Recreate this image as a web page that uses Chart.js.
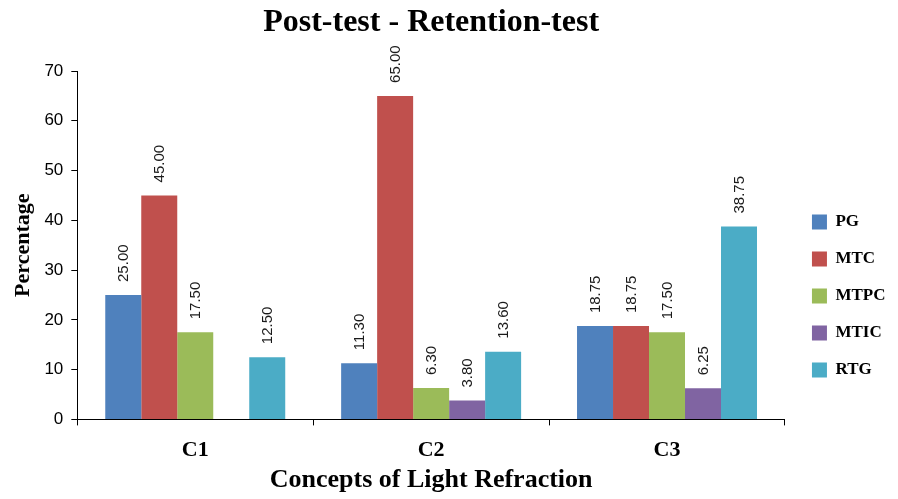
<!DOCTYPE html>
<html>
<head>
<meta charset="utf-8">
<script src="https://cdn.jsdelivr.net/npm/chart.js@4"></script>
<style>
  html, body { margin: 0; padding: 0; background: #fff; }
  #wrap { width: 898px; height: 499px; }
</style>
</head>
<body>
<div id="wrap"><canvas id="retentionChart"></canvas></div>
<script>
const categories = ["C1", "C2", "C3"];
const groupNames = ["PG", "MTC", "MTPC", "MTIC", "RTG"];
const pgValues = [25.0, 11.3, 18.75];
const mtcValues = [45.0, 65.0, 18.75];
const mtpcValues = [17.5, 6.3, 17.5];
const mticValues = [null, 3.8, 6.25];
const rtgValues = [12.5, 13.6, 38.75];
const yTicks = [0, 10, 20, 30, 40, 50, 60, 70];

const groupColors = ["#4f81bd", "#c0504d", "#9bbb59", "#8064a2", "#4bacc6"];
const serif = "'Liberation Serif', 'Times New Roman', serif";
const sans = "'Liberation Sans', Arial, sans-serif";

// vertical value labels above each bar
const barLabels = {
  id: "barLabels",
  afterDatasetsDraw(chart) {
    const ctx = chart.ctx;
    ctx.save();
    ctx.font = "15px " + sans;
    ctx.fillStyle = "#1a1a1a";
    ctx.textAlign = "left";
    ctx.textBaseline = "middle";
    chart.data.datasets.forEach((ds, i) => {
      chart.getDatasetMeta(i).data.forEach((bar, j) => {
        const v = ds.data[j];
        if (v == null) return;
        ctx.save();
        ctx.translate(bar.x + 1, bar.y - 13);
        ctx.rotate(-Math.PI / 2);
        ctx.fillText(v.toFixed(2), 0, 0);
        ctx.restore();
      });
    });
    ctx.restore();
  },
};

const seriesValues = [pgValues, mtcValues, mtpcValues, mticValues, rtgValues];

new Chart(document.getElementById("retentionChart"), {
  type: "bar",
  data: {
    labels: categories,
    datasets: groupNames.map((name, i) => ({
      label: name,
      data: seriesValues[i],
      backgroundColor: groupColors[i],
      borderWidth: 0,
      categoryPercentage: 0.763,
      barPercentage: 1,
    })),
  },
  plugins: [barLabels],
  options: {
    responsive: true,
    maintainAspectRatio: false,
    animation: false,
    layout: { padding: { top: 4, left: 6, right: 2.5, bottom: 3 } },
    plugins: {
      title: {
        display: true,
        fullSize: false,
        text: "Post-test - Retention-test",
        color: "#000",
        font: { family: serif, size: 32, weight: "bold" },
        padding: { top: 0, bottom: 28.6 },
      },
      legend: {
        position: "right",
        title: { display: true, text: "", font: { size: 10 }, padding: { top: 80, bottom: 0 } },
        labels: {
          boxWidth: 15,
          boxHeight: 15,
          padding: 20,
          color: "#000",
          font: { family: serif, size: 17, weight: "bold" },
        },
      },
      tooltip: { enabled: false },
    },
    scales: {
      x: {
        grid: { display: true, drawOnChartArea: false, color: "#000", tickLength: 6 },
        border: { color: "#000", width: 1 },
        ticks: {
          color: "#000",
          padding: 12,
          font: { family: serif, size: 22, weight: "bold" },
        },
        title: {
          display: true,
          text: "Concepts of Light Refraction",
          color: "#000",
          font: { family: serif, size: 26, weight: "bold" },
          padding: { top: -11, bottom: 0 },
        },
      },
      y: {
        min: 0,
        max: 70,
        afterBuildTicks: (axis) => {
          axis.ticks = yTicks.map((v) => ({ value: v }));
        },
        grid: { display: true, drawOnChartArea: false, color: "#000", tickLength: 6 },
        border: { color: "#000", width: 1 },
        ticks: {
          color: "#000",
          padding: 8,
          font: { family: sans, size: 17 },
        },
        title: {
          display: true,
          text: "Percentage",
          color: "#000",
          font: { family: serif, size: 22, weight: "bold" },
          padding: { top: 4, bottom: 0 },
        },
      },
      // spacer between plot and legend
      gap: {
        type: "linear",
        position: "right",
        grid: { display: false },
        border: { display: false },
        ticks: { display: false },
        afterFit: (axis) => {
          axis.width = 7;
        },
      },
    },
  },
});
</script>
</body>
</html>
